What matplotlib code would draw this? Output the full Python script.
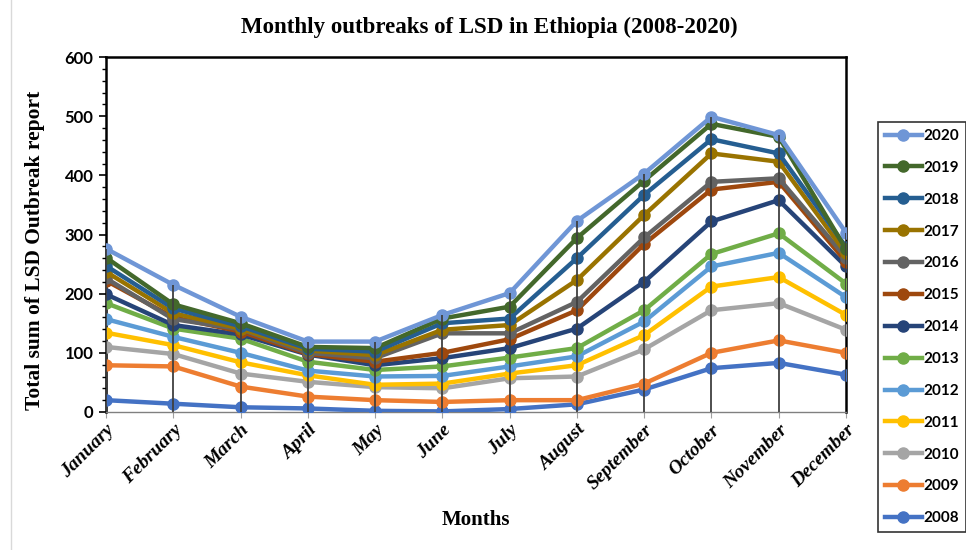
import matplotlib
matplotlib.use("Agg")
import matplotlib.pyplot as plt
from matplotlib.lines import Line2D
from matplotlib.ticker import MultipleLocator

months = ["January", "February", "March", "April", "May", "June", "July",
          "August", "September", "October", "November", "December"]

years = ["2008", "2009", "2010", "2011", "2012", "2013", "2014",
         "2015", "2016", "2017", "2018", "2019", "2020"]

y2008 = [20, 14, 8, 6, 2, 1, 5, 13, 38, 74, 83, 63]
y2009 = [79, 77, 43, 26, 20, 17, 20, 20, 48, 100, 121, 100]
y2010 = [110, 98, 65, 51, 42, 40, 57, 60, 106, 172, 184, 139]
y2011 = [134, 113, 84, 62, 46, 48, 65, 79, 130, 212, 228, 164]
y2012 = [157, 127, 100, 70, 60, 61, 77, 94, 153, 246, 269, 194]
y2013 = [184, 141, 124, 85, 71, 77, 92, 108, 172, 267, 302, 217]
y2014 = [199, 147, 131, 97, 79, 91, 108, 141, 220, 322, 358, 246]
y2015 = [222, 160, 136, 98, 85, 100, 123, 172, 284, 376, 389, 254]
y2016 = [226, 157, 140, 100, 91, 133, 133, 186, 295, 389, 395, 261]
y2017 = [237, 167, 141, 104, 96, 139, 147, 223, 333, 437, 423, 268]
y2018 = [247, 175, 145, 107, 102, 150, 158, 260, 367, 461, 437, 279]
y2019 = [261, 182, 150, 110, 108, 158, 178, 294, 391, 487, 465, 275]
y2020 = [276, 215, 161, 119, 119, 164, 201, 323, 403, 499, 468, 303]

series = [y2008, y2009, y2010, y2011, y2012, y2013, y2014,
          y2015, y2016, y2017, y2018, y2019, y2020]

colors = ["#4472C4", "#ED7D31", "#A5A5A5", "#FFC000", "#5B9BD5", "#70AD47",
          "#264478", "#9E480E", "#636363", "#997300", "#255E91", "#43682B",
          "#6F96D6"]

fig = plt.figure(figsize=(9.66, 5.5), dpi=100)
ax = fig.add_axes([106 / 966, 1 - 412 / 550, 740 / 966, 355 / 550])

x = list(range(len(months)))
for vals, col, yr in zip(series, colors, years):
    ax.plot(x, vals, color=col, lw=3.2, marker="o", ms=8,
            solid_capstyle="round", label=yr, zorder=3)

# drop lines from the highest value of each month down to the axis
tops = [max(s[i] for s in series) for i in x]
ax.vlines(x, 0, tops, color="#404040", lw=1.3, zorder=4)

ax.set_xlim(0, 11)
ax.set_ylim(0, 600)
ax.yaxis.set_major_locator(MultipleLocator(100))
ax.yaxis.set_minor_locator(MultipleLocator(20))
ax.tick_params(axis="y", which="major", direction="out", length=5, width=1.2,
               pad=4)
ax.tick_params(axis="y", which="minor", direction="out", length=3, width=1.0)
ax.tick_params(axis="x", direction="out", length=4, width=0.8,
               color="#A0A0A0", pad=3)

for side in ["left", "top", "right"]:
    ax.spines[side].set_color("black")
    ax.spines[side].set_linewidth(1.8)
ax.spines["bottom"].set_color("#808080")
ax.spines["bottom"].set_linewidth(1.0)

ax.set_xticks(x)
ax.set_xticklabels(months, rotation=45, ha="right", rotation_mode="anchor",
                   fontfamily="Liberation Serif", fontweight="bold",
                   fontstyle="italic", fontsize=14)
for lab in ax.get_yticklabels():
    lab.set_fontfamily("Lato")
    lab.set_fontweight("bold")
    lab.set_fontsize(12)

ax.set_xlabel("Months", fontfamily="Liberation Serif", fontweight="bold",
              fontsize=15, labelpad=12)
ax.set_ylabel("Total sum of LSD Outbreak report", fontfamily="Liberation Serif",
              fontweight="bold", fontsize=15.5)
ax.yaxis.set_label_coords(-0.082, 0.455)

fig.text(0.507, 0.951, "Monthly outbreaks of LSD in Ethiopia (2008-2020)",
         ha="center", va="center", fontfamily="Liberation Serif",
         fontweight="bold", fontsize=16.5)

handles = [Line2D([0], [0], color=c, lw=3.2, marker="o", ms=8) for c in colors]
leg = fig.legend(handles[::-1], years[::-1], loc="upper left",
                 bbox_to_anchor=(878 / 966, 1 - 122 / 550),
                 frameon=True, fancybox=False, edgecolor="black",
                 handlelength=2.4, handletextpad=0.1, labelspacing=1.17,
                 borderpad=0.45, borderaxespad=0.0,
                 prop={"family": "Lato", "weight": "bold", "size": 11})
leg.get_frame().set_linewidth(1.2)

fig.add_artist(Line2D([11 / 966, 11 / 966], [0, 1], color="#D9D9D9", lw=1.0))

fig.savefig("out.png", dpi=100)
